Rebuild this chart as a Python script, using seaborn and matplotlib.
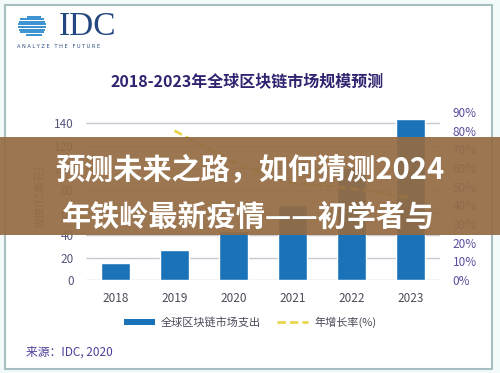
import matplotlib
matplotlib.use("Agg")
import matplotlib.pyplot as plt
import seaborn as sns
import numpy as np
import pandas as pd
from matplotlib.patches import Rectangle, Patch
from matplotlib.lines import Line2D

# ---- data ----
years = ["2018", "2019", "2020", "2021", "2022", "2023"]
spending = [15, 27, 44, 67, 100, 144]          # 亿美元
growth_years = ["2019", "2020", "2021", "2022", "2023"]
growth = [80, 63, 52, 49, 44]                   # %
left_ticks = [0, 20, 40, 60, 80, 100, 120, 140]
right_ticks = [0, 10, 20, 30, 40, 50, 60, 70, 80, 90]

title = "2018-2023年全球区块链市场规模预测"
bar_label = "全球区块链市场支出"
line_label = "年增长率(%)"
ylabel = "规模(亿美元)"
source = "来源：IDC, 2020"
banner_lines = ["预测未来之路，如何猜测2024", "年铁岭最新疫情——初学者与"]

sns.set_theme(style="white")
plt.rcParams['font.family'] = ['Noto Sans CJK SC', 'DejaVu Sans']

W, H = 500, 373
fig = plt.figure(figsize=(W / 100, H / 100), dpi=100)
fig.patch.set_facecolor("#f3fafa")

# background decoration axes (pixel coordinates)
bg = fig.add_axes([0, 0, 1, 1], zorder=0)
bg.set_xlim(0, W); bg.set_ylim(H, 0); bg.axis("off")
bg.add_patch(Rectangle((5, 5), 487, 364, facecolor="white", edgecolor="#a7bfc3", lw=1.5))

# IDC logo
cx, cy, r = 35, 26, 11
for yy in np.arange(cy - r + 1.5, cy + r, 2.6):
    half = np.sqrt(max(r**2 - (yy - cy) ** 2, 0))
    x0 = cx - half - (6 if abs(yy - cy) < 7 else 2)
    bg.plot([x0, cx + half], [yy, yy], color="#2a88cc", lw=1.3, solid_capstyle="butt")
bg.text(59, 27, "IDC", family="Liberation Serif", fontsize=24, color="#24477f",
        va="center", ha="left")
bg.text(17, 46, "A N A L Y Z E   T H E   F U T U R E", family="DejaVu Sans", fontsize=3.6,
        color="#24477f", va="center", ha="left")

bg.text(247, 82, title, fontsize=11.5, fontweight="bold", color="#2e2470", ha="center", va="center")
bg.text(40, 196, ylabel, fontsize=8, color="#6a6a80", rotation=90, ha="center", va="center")
bg.text(26, 352, source, fontsize=8.5, color="#4b3f9a", ha="left", va="center")

# ---- main chart ----
ax = fig.add_axes([86 / W, (H - 280) / H, 354 / W, 168 / H], zorder=2)
ax.set_facecolor("none")
df = pd.DataFrame({"year": years, "spending": spending})
sns.barplot(data=df, x="year", y="spending", color="#1a73b8", width=0.5,
            saturation=1, ax=ax, zorder=3)
ax.set_xlim(-0.5, 5.5)
ax.set_ylim(0, 150)
ax.set_yticks(left_ticks)
ax.yaxis.grid(True, color="#c9c9d2", lw=1)
ax.set_axisbelow(True)
ax.set_xlabel(""); ax.set_ylabel("")
for s in ax.spines.values():
    s.set_visible(False)
ax.tick_params(axis="y", length=0, pad=9, labelsize=8.5, labelcolor="#55557a")
ax.tick_params(axis="x", length=0, pad=9, labelsize=8.5, labelcolor="#4a4a5a")

ax2 = ax.twinx()
gdf = pd.DataFrame({"pos": [years.index(y) for y in growth_years], "growth": growth})
sns.lineplot(data=gdf, x="pos", y="growth", ax=ax2, color="#e8d64e", lw=2,
             linestyle=(0, (3, 1.5)))
ax2.set_ylim(0, 90)
ax2.set_yticks(right_ticks)
ax2.set_yticklabels([f"{t}%" for t in right_ticks])
ax2.set_xlim(-0.5, 5.5)
ax2.set_ylabel("")
for s in ax2.spines.values():
    s.set_visible(False)
ax2.tick_params(axis="y", length=0, pad=9, labelsize=8.5, labelcolor="#5b4d9e")

handles = [Patch(facecolor="#1a73b8", edgecolor="none"),
           Line2D([0], [0], color="#e8d64e", lw=2, linestyle=(0, (3, 1.5)))]
fig.legend(handles, [bar_label, line_label], loc="center", bbox_to_anchor=(0.5, (H - 322) / H),
           ncol=2, frameon=False, fontsize=8, handlelength=2.8, handleheight=0.5,
           handletextpad=0.5, columnspacing=1.5, labelcolor="#4a4a5a")

# ---- banner overlay ----
fg = fig.add_axes([0, 0, 1, 1], zorder=10)
fg.set_xlim(0, W); fg.set_ylim(H, 0); fg.axis("off")
fg.patch.set_alpha(0)
fg.add_patch(Rectangle((0, 137), W, 98, facecolor="#946c44", alpha=0.93, edgecolor="none"))
fg.text(250, 170, banner_lines[0], fontsize=21, fontweight="heavy", color="white",
        ha="center", va="center")
fg.text(248, 217, banner_lines[1], fontsize=21, fontweight="heavy", color="white",
        ha="center", va="center")

fig.savefig("out.png", dpi=100, facecolor=fig.get_facecolor())
